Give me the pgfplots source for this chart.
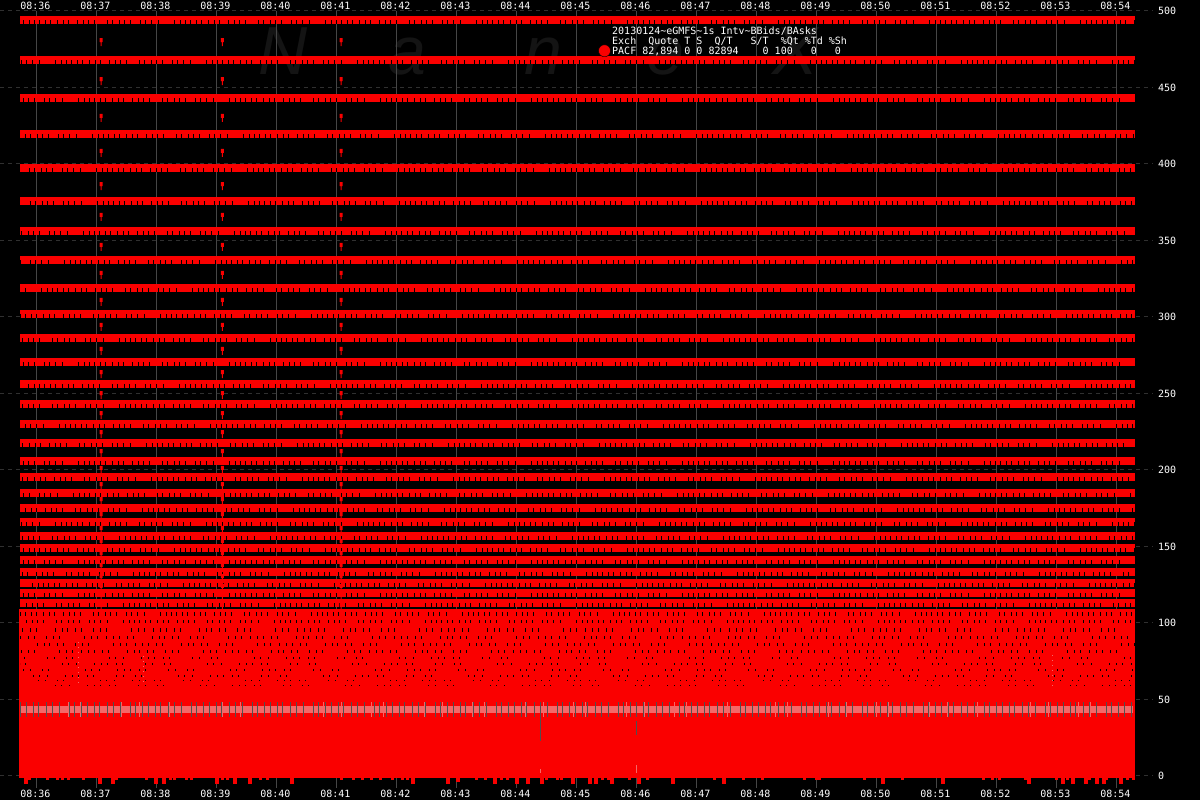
\documentclass[border=0pt]{standalone}
\usepackage{fontspec}
\setmainfont{DejaVu Sans Mono}
\setmonofont{DejaVu Sans Mono}
\newfontfamily\wmfont{Liberation Sans}
\usepackage{pgfplots}
\usepackage{pgfplotstable}
\pgfplotsset{compat=1.18}

\definecolor{bandred}{RGB}{250,0,0}
\definecolor{palered}{RGB}{244,104,104}
\definecolor{tickgray}{RGB}{80,80,80}
\definecolor{gridv}{RGB}{70,70,70}
\definecolor{gridh}{RGB}{48,48,48}
\definecolor{wm}{RGB}{20,20,20}

% 1 pt on the page is 1 px, 60 px a minute, 1.53 px a share
\pgfplotsset{
  tape/.style={
    at={(0pt,0pt)}, anchor=south west,
    width=1200pt, height=800pt, scale only axis,
    xmin=35.394, xmax=55.394, ymin=-15.69, ymax=507.19,
    axis line style={draw=none},
    major tick length=0pt,
    xtick={36,...,54},
    xticklabels={08:36,08:37,08:38,08:39,08:40,08:41,08:42,08:43,08:44,08:45,08:46,08:47,08:48,08:49,08:50,08:51,08:52,08:53,08:54},
    tick label style={font=\ttfamily\fontsize{10}{10}\selectfont, text=white, inner sep=0pt},
    /pgf/number format/assume math mode=true,
  },
}

\tikzset{
  notchA/.style={dash pattern=on 1pt off 4pt on 1pt off 5pt on 1pt off 4pt on 1pt off 6pt on 1pt off 5pt on 1pt off 4pt on 1pt off 8pt on 1pt off 5pt on 1pt off 4pt on 1pt off 5pt on 1pt off 12pt on 1pt off 4pt on 1pt off 6pt on 1pt off 4pt on 1pt off 5pt on 1pt off 9pt on 1pt off 4pt on 1pt off 5pt on 1pt off 6pt on 1pt off 15pt on 1pt off 5pt on 1pt off 4pt},
  notchB/.style={dash pattern=on 1pt off 6pt on 1pt off 5pt on 1pt off 7pt on 1pt off 5pt on 1pt off 18pt on 1pt off 6pt on 1pt off 4pt on 1pt off 7pt on 1pt off 5pt on 1pt off 11pt on 1pt off 6pt on 1pt off 5pt on 1pt off 24pt on 1pt off 6pt on 1pt off 5pt on 1pt off 8pt},
  notchC/.style={dash pattern=on 1pt off 5pt on 1pt off 8pt on 1pt off 5pt on 1pt off 22pt on 1pt off 6pt on 1pt off 11pt on 1pt off 5pt on 1pt off 36pt on 1pt off 5pt on 1pt off 7pt on 1pt off 17pt on 1pt off 6pt},
}
% value, height, pattern, phase
\newcommand{\notchrow}[4]{\addplot[black, line width=#2pt, #3, dash phase=#4pt] coordinates {(35.73,#1)(54.31,#1)};}

\pgfdeclareplotmark{flag}{%
  \pgfpathrectangle{\pgfpoint{-1.5pt}{0pt}}{\pgfpoint{3pt}{4pt}}%
  \pgfpathrectangle{\pgfpoint{-0.5pt}{-4pt}}{\pgfpoint{1pt}{4pt}}%
  \pgfusepathqfill}

\pgfplotstableread{
y
479.7
454.2
430.1
407.2
385.6
365.4
345.8
327.5
309.8
293.5
277.8
262.7
249.0
235.9
223.5
211.1
200.0
189.5
179.7
169.9
160.8
152.3
144.4
136.6
129.4
122.9
117.0
110.5
}\flagdata

\begin{document}
\begin{tikzpicture}
\useasboundingbox (0pt,0pt) rectangle (1200pt,800pt);
\fill[black] (0pt,0pt) rectangle (1200pt,800pt);

% faint watermark
\begin{scope}[every node/.style={text=wm, inner sep=0pt, anchor=base, font=\wmfont\itshape\fontsize{68}{68}\selectfont}]
\node at (283pt,725pt) {N};
\node at (407pt,725pt) {a};
\node at (543pt,725pt) {n};
\node at (665pt,725pt) {e};
\node at (795pt,725pt) {X};
\end{scope}

\begin{axis}[tape,
  ytick={0,50,...,500},
  yticklabel pos=right,
  x tick label style={anchor=center, xshift=-1pt, yshift=6.5pt},
  y tick label style={anchor=west, xshift=-42pt},
  unbounded coords=jump,
]
% grid
\pgfplotsinvokeforeach{0,50,...,500}{
  \addplot[gridh, line width=1pt, dash pattern=on 4pt off 4pt] coordinates {(35.394,#1)(54.61,#1)};
}
\pgfplotsinvokeforeach{36,...,54}{
  \addplot[gridv, line width=1pt] coordinates {(#1,500)(#1,-7.8)};
}

% quote bands
\pgfplotsinvokeforeach{494.1,468.0,443.1,419.6,397.4,375.8,356.2,337.3,319.0,302.0,286.3,270.6,256.2,243.1,230.1,217.8,205.9,195.4,185.0,175.2,166.0,156.9,149.0,141.2,133.3,126.1,119.6,113.1}{
  \addplot[bandred, line width=8pt] coordinates {(35.73,#1)(54.31,#1)};
  \addplot[black, line width=4pt, yshift=-2pt, notchA, dash phase=#1*7pt] coordinates {(35.73,#1)(54.31,#1)};
}

% solid mass below the bands
\addplot[draw=none, fill=bandred] coordinates {(35.71,109.2)(54.31,109.2)(54.31,-1.3)(35.71,-1.3)} -- cycle;

% drips under the mass
\addplot[ycomb, bandred, line width=4pt] coordinates {
(35.82,-5.2)(37.06,-5.2)(37.28,-5.2)(37.99,-5.2)(38.13,-5.2)(39.01,-5.2)(39.31,-5.2)(39.56,-5.2)(40.26,-5.2)
(42.28,-5.2)(42.86,-5.2)(43.03,-4.0)(43.64,-5.2)(44.01,-5.2)(44.19,-5.2)(44.43,-5.2)(44.94,-5.2)(45.23,-5.2)(45.33,-5.2)
(45.59,-5.2)(46.04,-5.2)(46.61,-5.2)(47.46,-5.2)(50.11,-5.2)(51.11,-5.2)(52.54,-5.2)(53.11,-5.2)(53.28,-5.2)(53.49,-5.2)
(53.68,-5.2)(53.79,-5.2)(54.08,-5.2)};
\addplot[ycomb, bandred, line width=3pt] coordinates {
(35.89,-2.6)(36.19,-2.6)(36.36,-2.6)(36.44,-2.6)(36.53,-2.6)(36.79,-2.6)(37.34,-2.6)(37.84,-2.6)(38.23,-2.6)(38.31,-2.6)
(38.51,-2.6)(38.59,-2.6)(39.11,-2.6)(39.19,-2.6)(39.73,-2.6)(39.86,-2.6)(41.09,-2.6)(41.28,-2.6)(41.44,-2.6)(41.59,-2.6)
(41.73,-2.6)(41.94,-2.6)(42.11,-2.6)(42.19,-2.6)(43.34,-2.6)(43.48,-2.6)(43.76,-2.6)(43.86,-2.6)(44.51,-2.6)(44.68,-2.6)
(44.76,-2.6)(45.44,-2.6)(45.53,-2.6)(45.89,-2.6)(46.18,-2.6)(47.31,-2.6)(47.78,-2.6)(48.11,-2.6)(48.81,-2.6)(49.01,-2.6)
(49.06,-2.6)(49.81,-2.6)(50.44,-2.6)(51.78,-2.6)(51.94,-2.6)(52.06,-2.6)(52.48,-2.6)(53.01,-2.6)(53.19,-2.6)(53.56,-2.6)
(53.84,-2.6)(54.18,-2.6)(54.28,-2.6)};

% rows of gaps in the mass
\notchrow{105.9}{4}{notchA}{0}
\notchrow{101.0}{3}{notchA}{37}
\notchrow{95.4}{4}{notchB}{11}
\notchrow{90.5}{3}{notchB}{58}
\notchrow{85.9}{3}{notchB}{29}
\notchrow{81.4}{3}{notchB}{83}
\notchrow{77.1}{2}{notchC}{17}
\notchrow{73.2}{2}{notchC}{64}
\notchrow{69.3}{2}{notchC}{41}
\notchrow{65.4}{2}{notchC}{93}
\notchrow{62.4}{1.5}{notchC}{26}
\notchrow{59.2}{1.5}{notchC}{71}

% band at 40-45
\addplot[palered, line width=7pt] coordinates {(35.73,43.5)(54.28,43.5)};
\addplot[palered, line width=15pt, dash pattern=on 1pt off 17pt on 1pt off 29pt on 1pt off 11pt on 1pt off 40pt] coordinates {(35.73,43.5)(54.28,43.5)};
\addplot[tickgray, line width=15pt, dash pattern=on 1pt off 5pt on 1pt off 6pt on 1pt off 4pt on 1pt off 7pt on 1pt off 5pt on 1pt off 6pt on 1pt off 9pt on 1pt off 4pt on 1pt off 6pt] coordinates {(35.73,43.5)(54.28,43.5)};

% odd prints inside the mass
\addplot[tickgray, line width=1pt] coordinates {(44.41,38.6)(44.41,22.9)(44.41,nan)(46.00,35.9)(46.00,26.8)};
\addplot[palered, line width=1pt] coordinates {(44.41,4.6)(44.41,2.0)(44.41,nan)(46.00,7.2)(46.00,2.0)};
\addplot[palered, line width=1pt, dash pattern=on 1pt off 4pt] coordinates {(36.70,87.6)(36.70,59.2)(36.70,nan)(37.78,78.4)(37.78,59.2)(37.78,nan)(52.93,79.0)(52.93,59.2)};

% single prints
\addplot[only marks, mark=flag, bandred] table [x expr=37.08, y=y] {\flagdata};
\addplot[only marks, mark=flag, bandred] table [x expr=39.10, y=y] {\flagdata};
\addplot[only marks, mark=flag, bandred] table [x expr=41.08, y=y] {\flagdata};

% legend dot
\addplot[only marks, mark=*, mark size=6pt, draw=none, fill=bandred] coordinates {(45.469,474.0)};
\end{axis}

\begin{axis}[tape,
  xticklabel pos=top,
  ytick=\empty,
  x tick label style={anchor=center, xshift=-1pt, yshift=-5.5pt},
]
\end{axis}

\begin{scope}[every node/.style={text=white, inner sep=0pt, anchor=base west, font=\ttfamily\fontsize{10}{10}\selectfont}]
\node at (612pt,765pt) {20130124\textasciitilde eGMFS\textasciitilde 1s Intv\textasciitilde BBids/BAsks};
\node at (612pt,755pt) {Exch~~Quote~T~S~~Q/T~~~S/T~~\%Qt~\%Td~\%Sh};
\node at (612pt,745pt) {PACF~82,894~0~0~82894~~~~0~100~~~0~~~0};
\end{scope}
\end{tikzpicture}
\end{document}
